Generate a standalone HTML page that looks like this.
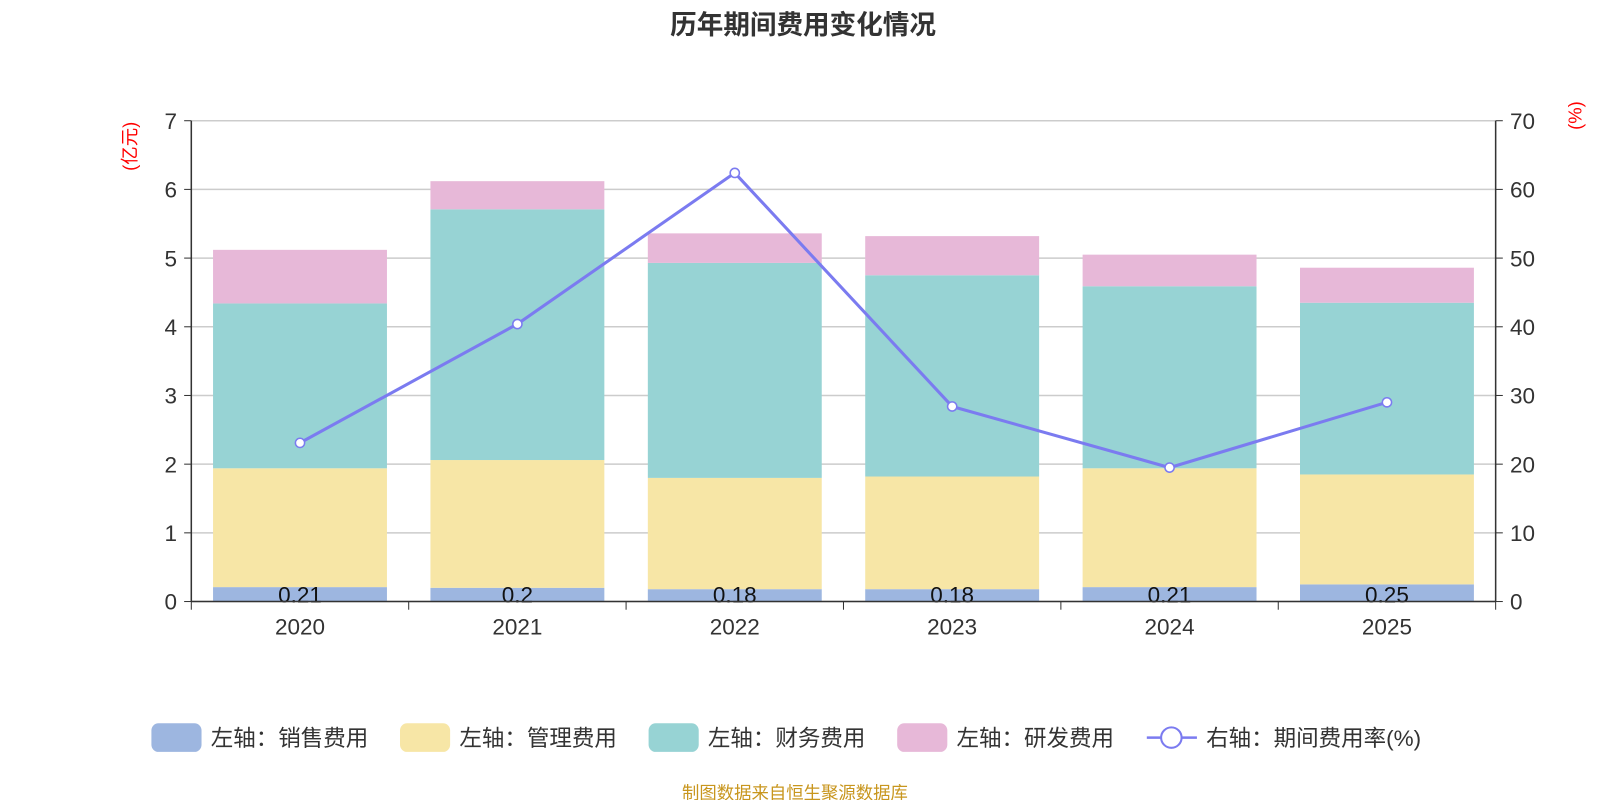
<!DOCTYPE html>
<html><head><meta charset="utf-8"><style>
body{margin:0;background:#fff;width:1600px;height:800px;overflow:hidden;font-family:"Liberation Sans","Noto Sans CJK SC",sans-serif}
</style></head><body>
<svg id="c" width="1600" height="800" viewBox="0 0 1564 782" xmlns="http://www.w3.org/2000/svg" font-family="Liberation Sans, Noto Sans CJK SC, sans-serif"></svg>
<script>
const categories=["2020","2021","2022","2023","2024","2025"];
const sales=[0.21,0.2,0.18,0.18,0.21,0.25];
const mgmt=[1.73,1.86,1.62,1.64,1.73,1.60];
const fin=[2.40,3.65,3.13,2.93,2.65,2.50];
const rd=[0.78,0.41,0.43,0.57,0.46,0.51];
const rate=[23.1,40.4,62.4,28.4,19.5,29.0];
const leftTicks=[0,1,2,3,4,5,6,7];
const rightTicks=[0,10,20,30,40,50,60,70];
const svg=document.getElementById('c');
const NS='http://www.w3.org/2000/svg';
function mk(t,a,txt){const e=document.createElementNS(NS,t);for(const k in a)e.setAttribute(k,a[k]);if(txt!=null)e.textContent=txt;svg.appendChild(e);return e;}
const X0=187,X1=1462,Y0=588,Y1=118;
const bw=(X1-X0)/categories.length;
const yL=v=>Y0-(v/7)*(Y0-Y1);
const yR=v=>Y0-(v/70)*(Y0-Y1);
const xc=i=>X0+bw*(i+0.5);
let e=mk('text',{x:785,y:33,'text-anchor':'middle','font-size':26,'font-weight':'bold',fill:'#333'},'历年期间费用变化情况');


leftTicks.forEach(t=>{
 e=mk('line',{x1:X0,x2:X1,y1:yL(t),y2:yL(t),stroke:'#ccc','stroke-width':1.5});
 
 
 e=mk('line',{x1:X0-7,x2:X0,y1:yL(t),y2:yL(t),stroke:'#333'});
 
 
 e=mk('text',{x:X0-14,y:yL(t)+8,'text-anchor':'end','font-size':22,fill:'#333'},t);
 
 
});
rightTicks.forEach(t=>{
 e=mk('line',{x1:X1,x2:X1+7,y1:yR(t),y2:yR(t),stroke:'#333'});
 
 
 e=mk('text',{x:X1+14,y:yR(t)+8,'font-size':22,fill:'#333'},t);
 
 
});
e=mk('text',{x:0,y:0,'font-size':18,fill:'red','text-anchor':'middle',transform:'translate(133,143) rotate(-90)'},'(亿元)');


e=mk('text',{x:0,y:0,'font-size':18,fill:'red','text-anchor':'middle',transform:'translate(1546,113) rotate(-90)'},'(%)');


const series=[[sales,'#9db6e0','bar-sales'],[mgmt,'#f7e6a6','bar-mgmt'],[fin,'#97d3d4','bar-finance'],[rd,'#e7b8d8','bar-rd']];
categories.forEach((c,i)=>{
 let base=0;
 series.forEach(([arr,col,nm])=>{
  const v=arr[i];
  e=mk('rect',{x:xc(i)-85,width:170,y:yL(base+v),height:yL(base)-yL(base+v),fill:col});
  
  
  base+=v;
 });
 e=mk('text',{x:xc(i),y:589,'text-anchor':'middle','font-size':22,fill:'#111'},sales[i]);
 
 
 e=mk('text',{x:xc(i),y:620,'text-anchor':'middle','font-size':22,fill:'#333'},c);
 
 
});
for(let i=0;i<=categories.length;i++){
 e=mk('line',{x1:X0+bw*i,x2:X0+bw*i,y1:Y0,y2:Y0+8,stroke:'#333'});
 
 
}
e=mk('line',{x1:X0,x2:X1,y1:Y0,y2:Y0,stroke:'#333','stroke-width':1.5});


e=mk('line',{x1:X0,x2:X0,y1:Y1,y2:Y0,stroke:'#333','stroke-width':1.5});


e=mk('line',{x1:X1,x2:X1,y1:Y1,y2:Y0,stroke:'#333','stroke-width':1.5});


e=mk('polyline',{points:rate.map((v,i)=>xc(i)+','+yR(v)).join(' '),fill:'none',stroke:'#7b7bf0','stroke-width':3});


rate.forEach((v,i)=>{
 e=mk('circle',{cx:xc(i),cy:yR(v),r:4.5,fill:'#fff',stroke:'#7b7bf0','stroke-width':1.5});
 
 
});
const leg=[['#9db6e0','左轴：销售费用',148],['#f7e6a6','左轴：管理费用',391],['#97d3d4','左轴：财务费用',634],['#e7b8d8','左轴：研发费用',877]];
leg.forEach(([col,t,x])=>{
 e=mk('rect',{x:x,y:707,width:49,height:28,rx:7,fill:col});
 
 
 e=mk('text',{x:x+58,y:729,'font-size':22,fill:'#333'},t);
 
 
});
e=mk('line',{x1:1121,x2:1170,y1:721,y2:721,stroke:'#7b7bf0','stroke-width':2.5});


e=mk('circle',{cx:1145,cy:721,r:10,fill:'#fff',stroke:'#7b7bf0','stroke-width':2});


e=mk('text',{x:1179,y:729,'font-size':22,fill:'#333'},'右轴：期间费用率(%)');


e=mk('text',{x:777,y:781,'text-anchor':'middle','font-size':17,fill:'#c8961e'},'制图数据来自恒生聚源数据库');


</script>
</body></html>
